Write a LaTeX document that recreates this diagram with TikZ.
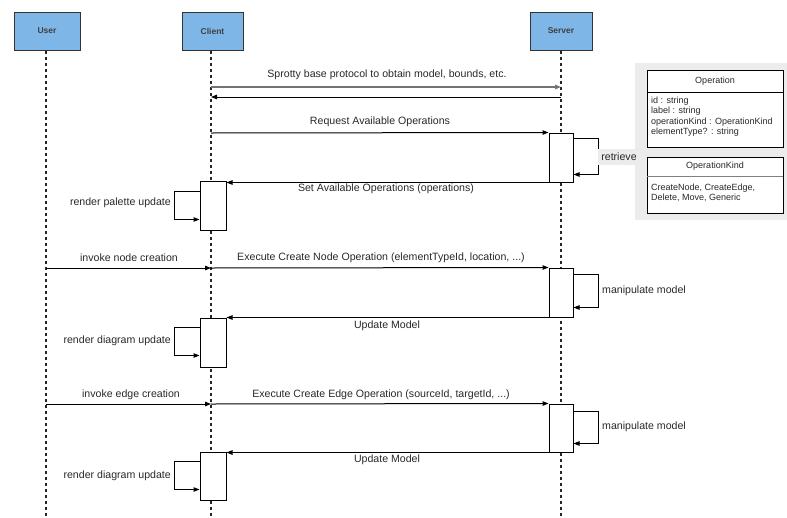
\documentclass[tikz,border=0pt]{standalone}
\usepackage{fontspec}
\setmainfont{Liberation Sans}
\usetikzlibrary{arrows.meta,calc}
\definecolor{headblue}{RGB}{126,182,232}
\definecolor{txt}{RGB}{40,40,40}
\definecolor{panel}{RGB}{236,236,236}
\begin{document}
\begin{tikzpicture}[x=1pt,y=-1pt,
  head/.style={draw=black!80,line width=1pt,fill=headblue,minimum height=38pt,
    font=\fontsize{8.5}{10}\selectfont\bfseries,text=black!75,inner sep=0pt},
  life/.style={black!85,line width=1.1pt,dash pattern=on 3pt off 3pt},
  act/.style={draw=black,line width=1pt,fill=white,inner sep=0pt},
  msg/.style={black,line width=1pt,-{Triangle[length=6pt,width=4.5pt]}},
  lbl/.style={font=\fontsize{10.6}{12}\selectfont,text=txt,inner sep=1pt},
  small/.style={font=\fontsize{9}{10.4}\selectfont,text=txt,inner sep=0pt},
  cls/.style={draw=black,line width=1pt,fill=white,anchor=north west,inner sep=0pt}]
\useasboundingbox (0,0) rectangle (787,517);

% lifeline heads
\node[head,minimum width=66pt] (user) at (47,31) {User};
\node[head,minimum width=61pt] (client) at (212.5,31) {Client};
\node[head,minimum width=62pt] (server) at (561,31) {Server};

% lifeline ends
\coordinate (userEnd) at (46,517);
\coordinate (clientEnd) at (211,517);
\coordinate (serverEnd) at (561,517);
\draw[life] (user.south -| userEnd) -- (userEnd);
\draw[life] (client.south -| clientEnd) -- (clientEnd);
\draw[life] (server.south -| serverEnd) -- (serverEnd);

% class panel
\fill[panel] (635,63) rectangle (787,220);
\node[cls,minimum width=136pt,minimum height=77pt] (op) at (647,70) {};
\draw[line width=0.8pt] (647,92) -- (783,92);
\node[small] (opT) at (715,81) {Operation};
\node[small,anchor=north west,align=left] (opA) at (651,96.5)
  {id : string\\label : string\\operationKind : OperationKind\\elementType? : string};
\node[cls,minimum width=136pt,minimum height=56pt] (ok) at (647,157) {};
\draw[line width=0.8pt,gray] (647,176) -- (783,176);
\node[small] (okT) at (715,166) {OperationKind};
\node[small,anchor=north west,align=left] (okA) at (651,183.5)
  {CreateNode, CreateEdge,\\Delete, Move, Generic};

% activation bars
\node[act,minimum width=24pt,minimum height=49pt] (sa1) at (561,157.5) {};
\node[act,minimum width=26pt,minimum height=49pt] (ca1) at (213,205.5) {};
\node[act,minimum width=24pt,minimum height=49pt] (sa2) at (561,292.5) {};
\node[act,minimum width=26pt,minimum height=49pt] (ca2) at (213,342.5) {};
\node[act,minimum width=24pt,minimum height=48pt] (sa3) at (561,428) {};
\node[act,minimum width=26pt,minimum height=48pt] (ca3) at (213,476) {};

% protocol handshake
\coordinate (p1c) at (211,87);
\coordinate (p1s) at (561,87);
\coordinate (p2c) at (211,97);
\coordinate (p2s) at (561,97);
\draw[msg,draw=black!55,line width=1.3pt] (p1c) -- (p1s);
\node[lbl] at (387,75) {Sprotty base protocol to obtain model, bounds, etc.};
\draw[msg] (p2s) -- (p2c);

% available operations
\coordinate (q1) at (211,133);
\draw[msg] (q1) -- (sa1.north west);
\node[lbl] at (380,122) {Request Available Operations};
\draw[msg] ([yshift=-6pt]sa1.north east) -- ++(25,0) |- ([yshift=8pt]sa1.south east);
\node[lbl,fill=panel,inner xsep=3pt,inner ysep=4pt] (retr) at (619,157) {retrieve};
\draw[msg] (sa1.south west) -- (sa1.south west -| ca1.east);
\node[lbl] at (386,189) {Set Available Operations (operations)};
\draw[msg] ([yshift=-11pt]ca1.north west) -- ++(-25,0) |- ([yshift=11pt]ca1.south west);
\node[lbl,anchor=east] at (172,203) {render palette update};

% node creation
\coordinate (n1u) at (46,268);
\coordinate (n1c) at (211,268);
\draw[msg] (n1u) -- (n1c);
\node[lbl] at (129,258) {invoke node creation};
\draw[msg] (n1c) -- (sa2.north west);
\node[lbl] at (381,258) {Execute Create Node Operation (elementTypeId, location, ...)};
\draw[msg] ([yshift=-7pt]sa2.north east) -- ++(25,0) |- ([yshift=10pt]sa2.south east);
\node[lbl,anchor=west] at (601,291) {manipulate model};
\draw[msg] (sa2.south west) -- (sa2.south west -| ca2.east);
\node[lbl] at (387,326) {Update Model};
\draw[msg] ([yshift=-10pt]ca2.north west) -- ++(-25,0) |- ([yshift=12pt]ca2.south west);
\node[lbl,anchor=east] at (172,341) {render diagram update};

% edge creation
\coordinate (e1u) at (46,404);
\coordinate (e1c) at (211,404);
\draw[msg] (e1u) -- (e1c);
\node[lbl] at (131,395) {invoke edge creation};
\draw[msg] (e1c) -- (sa3.north west);
\node[lbl] at (381,395) {Execute Create Edge Operation (sourceId, targetId, ...)};
\draw[msg] ([yshift=-8pt]sa3.north east) -- ++(25,0) |- ([yshift=9pt]sa3.south east);
\node[lbl,anchor=west] at (601,427) {manipulate model};
\draw[msg] (sa3.south west) -- (sa3.south west -| ca3.east);
\node[lbl] at (387,460) {Update Model};
\draw[msg] ([yshift=-10pt]ca3.north west) -- ++(-25,0) |- ([yshift=11pt]ca3.south west);
\node[lbl,anchor=east] at (172,476) {render diagram update};
\end{tikzpicture}
\end{document}
